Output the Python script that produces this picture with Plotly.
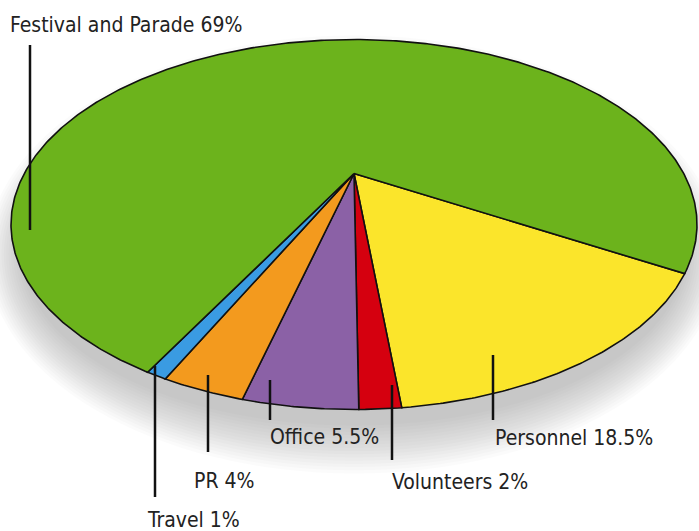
import numpy as np
import plotly.graph_objects as go

# ---- data ----
categories = ["Personnel", "Volunteers", "Office", "PR", "Travel", "Festival and Parade"]
values = [18.5, 2, 5.5, 4, 1, 69]
label_texts = ["Personnel 18.5%", "Volunteers 2%", "Office 5.5%", "PR 4%", "Travel 1%", "Festival and Parade 69%"]

# ---- style / layout ----
colors = ["#fbe52b", "#d5000f", "#8b61a6", "#f39a1e", "#3a9be2", "#6cb31c"]
W, H = 699, 531
CX, CY, RX, RY = 354, 224.5, 343, 185   # ellipse in page-pixel space
APEX_DY = -51                            # perspective apex offset
START_DEG = 15.4                         # where the first slice starts (screen, clockwise)

label_x = [493, 390, 268, 192, 145, 8]
label_y = [438, 482, 437, 481, 520, 25]
line_x = [493, 392, 270, 208, 155, 30]
line_y0 = [355, 385, 380, 375, 366, 45]
line_y1 = [420, 460, 420, 452, 497, 230]

fig = go.Figure()

# soft shadow beneath the pie
for i in range(16):
    gx = -14 + i * 2.4
    gy = -14 + i * 3.2
    fig.add_shape(type="circle", xref="x", yref="y", layer="below",
                  x0=CX - RX - gx - 2, x1=CX + RX + gx + 2,
                  y0=CY - RY - gy + 30, y1=CY + RY + gy + 30,
                  fillcolor="rgba(130,130,130,0.032)", line=dict(width=0))

total = sum(values)
cum = np.concatenate([[0], np.cumsum(values)])
ax, ay = CX, CY + APEX_DY
for i, cat in enumerate(categories):
    t0 = np.radians(START_DEG + 360 * cum[i] / total)
    t1 = np.radians(START_DEG + 360 * cum[i + 1] / total)
    n = max(4, int(abs(t1 - t0) / np.radians(0.5)))
    t = np.linspace(t0, t1, n)
    xs = np.concatenate([[ax], CX + RX * np.cos(t), [ax]])
    ys = np.concatenate([[ay], CY + RY * np.sin(t), [ay]])
    fig.add_trace(go.Scatter(x=xs, y=ys, mode="lines", fill="toself",
                             fillcolor=colors[i], line=dict(color="#111111", width=1.6),
                             name=cat, hoverinfo="name", showlegend=False))

for i in range(len(categories)):
    fig.add_shape(type="line", xref="x", yref="y", x0=line_x[i], x1=line_x[i],
                  y0=line_y0[i], y1=line_y1[i], line=dict(color="#111111", width=2.5))
    fig.add_annotation(x=label_x[i], y=label_y[i], xref="x", yref="y", text=label_texts[i],
                       showarrow=False, xanchor="left", yanchor="middle",
                       font=dict(family="DejaVu Sans Condensed, sans-serif",
                                 size=21, color="#222222"))

fig.update_xaxes(range=[0, W], visible=False, fixedrange=True)
fig.update_yaxes(range=[H, 0], visible=False, fixedrange=True)
fig.update_layout(width=W, height=H, margin=dict(l=0, r=0, t=0, b=0),
                  paper_bgcolor="white", plot_bgcolor="white", showlegend=False)
fig.write_html("out.html", config={"displayModeBar": False},
               post_script="document.body.style.margin='0';document.body.style.overflow='hidden';")
